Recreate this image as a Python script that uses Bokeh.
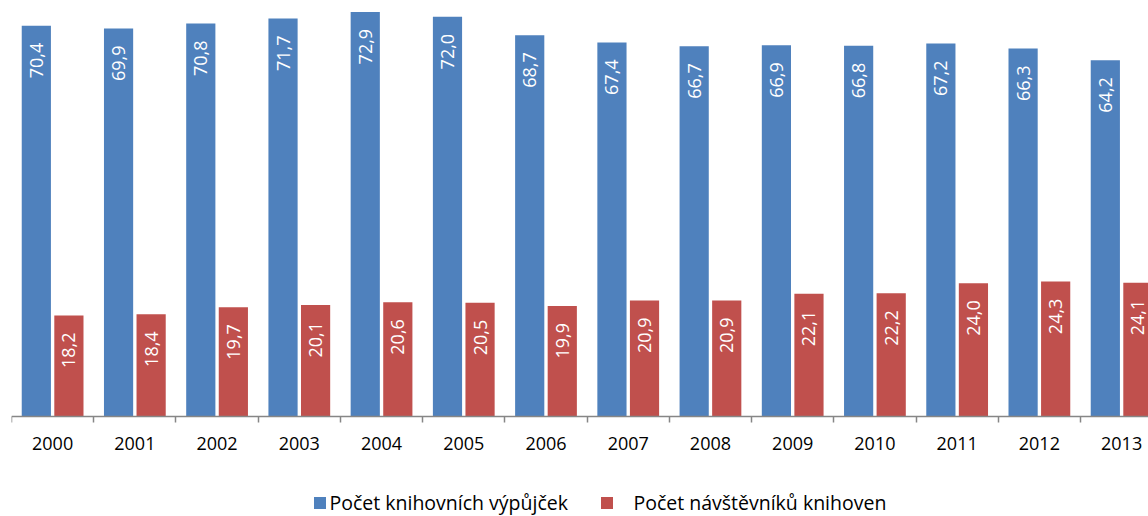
import numpy as np
from bokeh.plotting import figure
from bokeh.models import (ColumnDataSource, Range1d, FixedTicker, Legend, LegendItem,
                          LinearAxis)
from bokeh.core.properties import value
from bokeh.embed import file_html
from bokeh.resources import INLINE

years = ["2000", "2001", "2002", "2003", "2004", "2005", "2006",
         "2007", "2008", "2009", "2010", "2011", "2012", "2013"]
loans = [70.4, 69.9, 70.8, 71.7, 72.9, 72.0, 68.7, 67.4, 66.7, 66.9, 66.8, 67.2, 66.3, 64.2]
visitors = [18.2, 18.4, 19.7, 20.1, 20.6, 20.5, 19.9, 20.9, 20.9, 22.1, 22.2, 24.0, 24.3, 24.1]
series_names = ["Počet knihovních výpůjček", "Počet návštěvníků knihoven"]
colors = ["#4F81BD", "#C0504D"]

FONT = "Open Sans"
idx = np.arange(len(years))
offset = 0.198
bar_w = 0.355

def fmt(v):
    return f"{v:.1f}".replace(".", ",")

src_a = ColumnDataSource(dict(x=idx - offset, top=loans, lab=[fmt(v) for v in loans]))
src_b = ColumnDataSource(dict(x=idx + offset, top=visitors, lab=[fmt(v) for v in visitors]))

p = figure(width=1148, height=516, output_backend="svg", toolbar_location=None,
           x_range=Range1d(-0.5, 13.327), y_range=Range1d(-18.02, 74.95),
           x_axis_location=None, y_axis_location=None,
           min_border_left=11, min_border_right=0, min_border_top=0, min_border_bottom=0)
p.outline_line_color = None
p.xgrid.visible = False
p.ygrid.visible = False

ra = p.vbar(x="x", top="top", bottom=0, width=bar_w, source=src_a,
            fill_color=colors[0], line_color=None)
rb = p.vbar(x="x", top="top", bottom=0, width=bar_w, source=src_b,
            fill_color=colors[1], line_color=None)

for src in (src_a, src_b):
    p.text(x="x", y="top", text="lab", source=src, angle=np.pi / 2,
           text_align="right", text_baseline="middle", y_offset=17,
           text_color="white", text_font=value(FONT), text_font_size="18px")

ax = LinearAxis(ticker=FixedTicker(ticks=list(idx),
                                   minor_ticks=[i - 0.5 for i in range(len(years) + 1)]),
                fixed_location=0)
ax.major_label_overrides = {int(i): y for i, y in zip(idx, years)}
ax.axis_line_color = "#868686"
ax.axis_line_width = 1.5
ax.major_tick_out = 0
ax.major_tick_in = 0
ax.minor_tick_out = 6
ax.minor_tick_in = 0
ax.minor_tick_line_color = "#868686"
ax.minor_tick_line_width = 1.5
ax.major_label_standoff = 15
ax.major_label_text_font = FONT
ax.major_label_text_font_size = "18px"
ax.major_label_text_color = "#000000"
p.add_layout(ax, "below")

def make_legend(item, loc, standoff):
    lg = Legend(items=[item], location=loc, orientation="horizontal",
                glyph_width=15, glyph_height=15, label_standoff=standoff,
                padding=0, margin=0, border_line_alpha=0, background_fill_alpha=0,
                label_text_font=FONT, label_text_font_size="19.5px",
                label_text_color="#000000")
    p.add_layout(lg)

make_legend(LegendItem(label=series_names[0], renderers=[ra]), (300.5, 0), 3)
make_legend(LegendItem(label=series_names[1], renderers=[rb]), (587.5, 0), 20)

open("out.html", "w").write(file_html(p, INLINE))
